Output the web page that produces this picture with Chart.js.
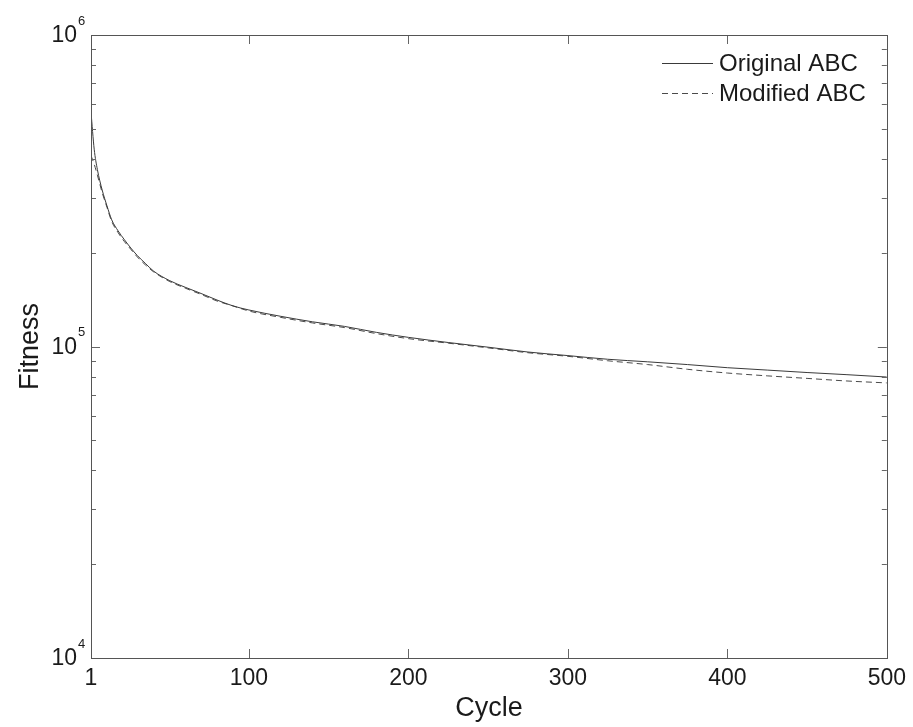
<!DOCTYPE html>
<html>
<head>
<meta charset="utf-8">
<script src="https://cdn.jsdelivr.net/npm/chart.js@4"></script>
<style>
html,body{margin:0;padding:0;background:#fff;}
#wrap{width:913px;height:727px;}
</style>
</head>
<body>
<div id="wrap"><canvas id="c" width="913" height="727"></canvas></div>
<script>
// ---- data ----
const cycles = [1,3,5,8,11,14,18,22,26,30,35,40,50,60,70,80,90,100,120,140,160,180,200,225,250,275,300,325,350,375,400,425,450,475,500];
const originalABC = [566000,430000,370000,318000,283000,255000,235000,220000,207000,196000,185000,175000,163000,155000,148000,141000,135000,131000,125000,120000,116000,111000,107000,103000,99500,96000,93500,91000,89300,87500,85500,84000,82500,81200,79800];
const modifiedABC = [410000,385000,355000,312000,280000,252000,232000,217000,205000,194000,183000,174000,162000,154000,147000,140000,135000,130000,124000,119000,115000,110000,106000,102500,99000,95500,93000,90000,87500,84500,82200,80500,79000,77500,76400];
const seriesNames = ["Original ABC","Modified ABC"];
const xTicks = [1,100,200,300,400,500];
const yTickValues = [10000,100000,1000000];
const yTickBase = ["10","10","10"];
const yTickExponents = ["4","5","6"];
const xTitle = "Cycle";
const yTitle = "Fitness";

const FONT = "'Liberation Sans', Arial, sans-serif";
const TXT = "#1a1a1a";

const decorPlugin = {
  id: 'decor',
  afterDraw(chart) {
    const ctx = chart.ctx;
    const a = chart.chartArea;
    const xs = chart.scales.x, ys = chart.scales.y;
    ctx.save();
    // inward ticks
    ctx.strokeStyle = '#666';
    ctx.lineWidth = 1;
    ctx.beginPath();
    xTicks.forEach(v => {
      const px = Math.round(xs.getPixelForValue(v)) + 0.5;
      ctx.moveTo(px, a.bottom); ctx.lineTo(px, a.bottom - 9);
      ctx.moveTo(px, a.top); ctx.lineTo(px, a.top + 9);
    });
    for (let d = 4; d <= 5; d++) {
      for (let m = 1; m <= 9; m++) {
        const v = m * Math.pow(10, d);
        const py = Math.round(ys.getPixelForValue(v)) + 0.5;
        const len = m === 1 ? 9 : 5;
        ctx.moveTo(a.left, py); ctx.lineTo(a.left + len, py);
        ctx.moveTo(a.right, py); ctx.lineTo(a.right - len, py);
      }
    }
    ctx.stroke();
    // axes box
    ctx.strokeStyle = '#555';
    ctx.strokeRect(Math.round(a.left) + 0.5, Math.round(a.top) + 0.5, Math.round(a.right - a.left), Math.round(a.bottom - a.top));
    // y tick labels with superscript exponent
    ctx.fillStyle = TXT;
    yTickValues.forEach((v, i) => {
      const py = ys.getPixelForValue(v);
      ctx.font = "23px " + FONT;
      ctx.textAlign = 'right';
      ctx.textBaseline = 'middle';
      ctx.fillText(yTickBase[i], 77, py + 1);
      ctx.font = "13px " + FONT;
      ctx.textAlign = 'left';
      ctx.fillText(yTickExponents[i], 78, py - 14);
    });
    // legend
    const ds = chart.data.datasets;
    const rows = [63, 93];
    ds.forEach((d, i) => {
      ctx.strokeStyle = d.borderColor;
      ctx.lineWidth = 1;
      ctx.setLineDash(d.borderDash || []);
      ctx.beginPath();
      ctx.moveTo(662, rows[i] + 0.5); ctx.lineTo(713, rows[i] + 0.5);
      ctx.stroke();
      ctx.setLineDash([]);
      ctx.font = "24px " + FONT;
      ctx.textAlign = 'left';
      ctx.textBaseline = 'middle';
      ctx.fillStyle = TXT;
      ctx.fillText(d.label, 719, rows[i] + 1);
    });
    ctx.restore();
  }
};

new Chart(document.getElementById('c'), {
  type: 'line',
  data: {
    datasets: [
      { label: seriesNames[0], data: cycles.map((c, i) => ({x: c, y: originalABC[i]})),
        borderColor: '#3a3a3a', borderWidth: 1, pointRadius: 0, fill: false, cubicInterpolationMode: 'monotone' },
      { label: seriesNames[1], data: cycles.map((c, i) => ({x: c, y: modifiedABC[i]})),
        borderColor: '#4a4a4a', borderWidth: 1, borderDash: [6, 4], pointRadius: 0, fill: false, cubicInterpolationMode: 'monotone' }
    ]
  },
  options: {
    responsive: false,
    animation: false,
    devicePixelRatio: 1,
    layout: { padding: { top: 35, right: 25, left: 0, bottom: 0 } },
    plugins: { legend: { display: false }, tooltip: { enabled: false } },
    scales: {
      x: {
        type: 'linear', min: 1, max: 500,
        afterBuildTicks: s => { s.ticks = xTicks.map(v => ({value: v})); },
        afterFit: s => { s.height = 69; },
        grid: { display: false, drawTicks: false },
        border: { display: false },
        ticks: { color: TXT, font: { family: FONT, size: 23 }, padding: 7, maxRotation: 0, autoSkip: false },
        title: { display: true, text: xTitle, color: TXT, font: { family: FONT, size: 27 }, padding: { top: 0, bottom: 2 } }
      },
      y: {
        type: 'logarithmic', min: 10000, max: 1000000,
        afterFit: s => { s.width = 91; },
        grid: { display: false, drawTicks: false },
        border: { display: false },
        ticks: { display: false },
        title: { display: true, text: yTitle, color: TXT, font: { family: FONT, size: 27 }, padding: { top: 14, bottom: 0 } }
      }
    }
  },
  plugins: [decorPlugin]
});
</script>
</body>
</html>
